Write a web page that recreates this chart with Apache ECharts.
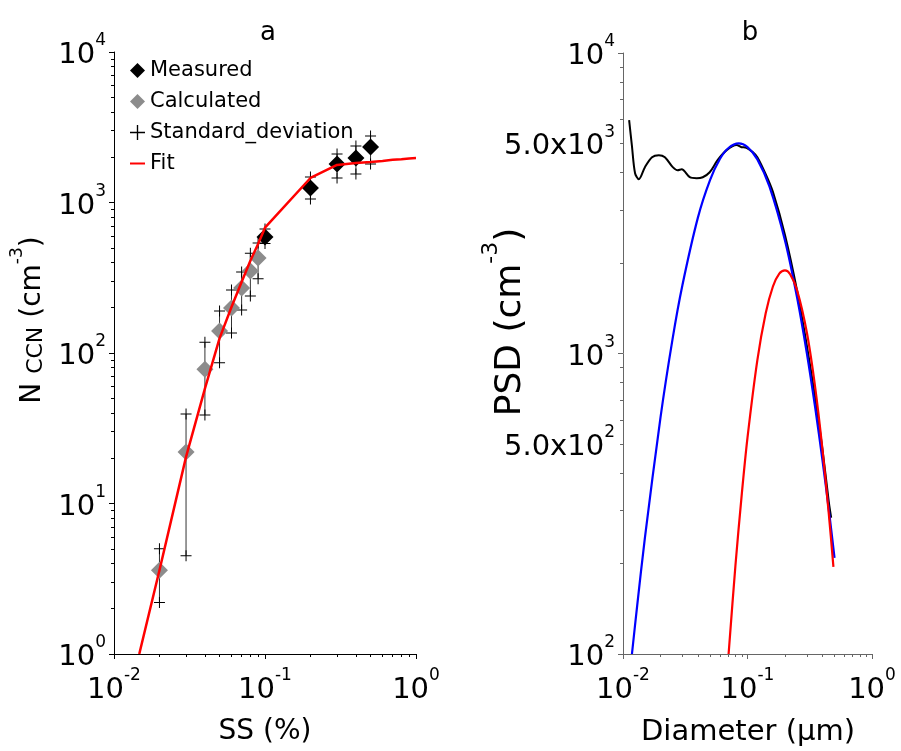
<!DOCTYPE html>
<html>
<head>
<meta charset="utf-8">
<script src="https://cdn.jsdelivr.net/npm/echarts@6/dist/echarts.min.js"></script>
<style>
  html, body { margin: 0; padding: 0; background: #fff; }
  #chart { width: 901px; height: 751px; }
</style>
</head>
<body>
<div id="chart"></div>
<script>
// panel a: CCN activation spectrum
const measSS = [0.1, 0.2, 0.3, 0.4, 0.5];
const measN = [590, 1250, 1800, 1975, 2340];
const measLow = [535, 1056, 1455, 1546, 1803];
const measHigh = [667, 1477, 2100, 2373, 2767];

const calcSS = [0.02, 0.03, 0.04, 0.05, 0.06, 0.07, 0.08, 0.09];
const calcN = [3.6, 22, 78, 140, 199, 270, 351, 428];
const calcLow = [2.2, 4.5, 38.7, 86, 136, 193, 239, 312];
const calcHigh = [5.0, 39.3, 118, 190, 262, 345, 460, 538];

const fitSS = [0.0147, 0.02, 0.03, 0.04, 0.05, 0.06, 0.07, 0.08, 0.09, 0.1, 0.2, 0.3, 0.4, 0.5, 0.6, 0.7, 0.8, 0.9, 1.0];
const fitN = [1.0, 3.6, 20.4, 58, 125, 202, 296, 410, 530, 680, 1455, 1775, 1830, 1858, 1890, 1920, 1940, 1960, 1975];

// panel b: particle size distribution
const psdD = [0.0112, 0.0118, 0.0125, 0.0134, 0.015, 0.0171, 0.0194, 0.0217, 0.0251, 0.0275, 0.0296, 0.0344, 0.0391, 0.0437, 0.0497, 0.0575, 0.068, 0.0817, 0.0895, 0.098, 0.11, 0.12, 0.14, 0.16, 0.2, 0.25, 0.3, 0.35, 0.4, 0.45, 0.47];
const psdN = [5980, 4900, 3980, 3800, 4170, 4500, 4570, 4500, 4170, 4070, 4100, 3860, 3830, 3860, 4010, 4400, 4750, 4940, 4860, 4840, 4680, 4500, 3950, 3450, 2480, 1620, 1060, 710, 480, 320, 284];

const mode1D = [0.0118, 0.013, 0.015, 0.02, 0.025, 0.03, 0.04, 0.05, 0.06, 0.07, 0.085, 0.1, 0.12, 0.15, 0.2, 0.25, 0.3, 0.35, 0.4, 0.45, 0.5];
const mode1N = [100, 145, 244, 612, 1117, 1687, 2838, 3776, 4436, 4819, 5000, 4862, 4426, 3600, 2379, 1538, 1000, 659, 442, 302, 209];

const mode2D = [0.0705, 0.08, 0.09, 0.1, 0.12, 0.14, 0.16, 0.18, 0.2, 0.22, 0.25, 0.3, 0.35, 0.4, 0.45, 0.49];
const mode2N = [100, 197, 341, 525, 951, 1361, 1671, 1845, 1892, 1836, 1625, 1172, 769, 480, 292, 195];

const psdLabelValues = [100, 500, 1000, 5000, 10000];

const FONT = 'DejaVu Sans';
const PLUS = 'path://M5,0 L6,0 L6,5 L11,5 L11,6 L6,6 L6,11 L5,11 L5,6 L0,6 L0,5 L5,5 Z';
const DASH = 'path://M0,0 L15,0 L15,2 L0,2 Z';

const zip = (xs, ys) => xs.map((x, i) => [x, ys[i]]);

function sciLabel(v) {
    const e = Math.floor(Math.log10(v) + 1e-9);
    const m = v / Math.pow(10, e);
    if (Math.abs(m - 1) < 1e-6) return '{b|10}{s|' + e + '}';
    return '{b|' + m.toFixed(1) + 'x10}{s|' + e + '}';
}

// base text sits in the middle of a tall line, exponent hangs at its top
const labelRich = {
    b: { fontSize: 29, height: 29, lineHeight: 46, verticalAlign: 'middle', fontFamily: FONT, color: '#000' },
    s: { fontSize: 17, height: 17, lineHeight: 17, verticalAlign: 'top', fontFamily: FONT, color: '#000' }
};

function logAxis(gridIndex, min, max, color, label) {
    return {
        type: 'log',
        logBase: 10,
        gridIndex: gridIndex,
        min: min,
        max: max,
        axisLine: { show: true, lineStyle: { color: color, width: 1 } },
        axisTick: { show: true, inside: false, length: 5, lineStyle: { color: color } },
        minorTick: { show: true, splitNumber: 9, length: 3, lineStyle: { color: color } },
        splitLine: { show: false },
        minorSplitLine: { show: false },
        axisLabel: Object.assign({ formatter: sciLabel, rich: labelRich }, label)
    };
}

const errData = calcSS.map((s, i) => [s, calcLow[i], calcHigh[i]])
    .concat(measSS.map((s, i) => [s, measLow[i], measHigh[i]]));
const stdPoints = errData.map(d => [d[0], d[1]]).concat(errData.map(d => [d[0], d[2]]));

const nameRichA = {
    m: { fontSize: 28, height: 28, lineHeight: 44, verticalAlign: 'bottom', fontFamily: FONT, fill: '#000' },
    c: { fontSize: 22, height: 22, lineHeight: 22, verticalAlign: 'bottom', fontFamily: FONT, fill: '#000' },
    p: { fontSize: 17, height: 17, lineHeight: 17, verticalAlign: 'top', padding: [6, 0, 0, 0], fontFamily: FONT, fill: '#000' }
};
const nameRichB = {
    m: { fontSize: 36, height: 36, lineHeight: 56, verticalAlign: 'bottom', fontFamily: FONT, fill: '#000' },
    p: { fontSize: 22, height: 22, lineHeight: 22, verticalAlign: 'top', padding: [7, 0, 0, 0], fontFamily: FONT, fill: '#000' }
};

const chart = echarts.init(document.getElementById('chart'), null, { renderer: 'canvas' });

chart.setOption({
    animation: false,
    backgroundColor: '#fff',
    textStyle: { fontFamily: FONT, color: '#000' },
    title: [
        { text: 'a', left: 263, top: 28, textAlign: 'center', textVerticalAlign: 'middle',
          textStyle: { fontSize: 26, fontWeight: 'normal', fontFamily: FONT, color: '#000' } },
        { text: 'b', left: 745, top: 28, textAlign: 'center', textVerticalAlign: 'middle',
          textStyle: { fontSize: 26, fontWeight: 'normal', fontFamily: FONT, color: '#000' } }
    ],
    legend: {
        orient: 'vertical',
        left: 130,
        top: 60,
        padding: 0,
        itemWidth: 15,
        itemHeight: 15,
        itemGap: 10,
        textStyle: { fontSize: 21, fontFamily: FONT, color: '#000' },
        data: ['Measured', 'Calculated', 'Standard_deviation', { name: 'Fit', icon: DASH }]
    },
    grid: [
        { left: 114, top: 52, width: 302, height: 602, containLabel: false },
        { left: 623, top: 53, width: 249, height: 601, containLabel: false }
    ],
    xAxis: [
        logAxis(0, 0.01, 1, '#000', { margin: 13 }),
        logAxis(1, 0.01, 1, '#666', { margin: 13 })
    ],
    yAxis: [
        logAxis(0, 1, 10000, '#000', { margin: 8, padding: [7, 0, 0, 0] }),
        logAxis(1, 100, 10000, '#666', { margin: 8, padding: [7, 0, 0, 0], customValues: psdLabelValues })
    ],
    graphic: [
        { type: 'text', x: 47, y: 320, rotation: Math.PI / 2,
          style: { text: '{m|N }{c|CCN}{m| (cm}{p|-3}{m|)}', align: 'center', verticalAlign: 'bottom', rich: nameRichA } },
        { type: 'text', x: 529, y: 322, rotation: Math.PI / 2,
          style: { text: '{m|PSD (cm}{p|-3}{m|)}', align: 'center', verticalAlign: 'bottom', rich: nameRichB } },
        { type: 'text', x: 265, y: 732,
          style: { text: 'SS (%)', align: 'center', verticalAlign: 'middle', fontSize: 28, fontFamily: FONT, fill: '#000' } },
        { type: 'text', x: 748, y: 732,
          style: { text: 'Diameter (µm)', align: 'center', verticalAlign: 'middle', fontSize: 29, fontFamily: FONT, fill: '#000' } }
    ],
    series: [
        {
            name: 'errbar',
            type: 'custom',
            xAxisIndex: 0,
            yAxisIndex: 0,
            data: errData,
            encode: { x: 0, y: [1, 2] },
            renderItem: function (params, api) {
                const p1 = api.coord([api.value(0), api.value(1)]);
                const p2 = api.coord([api.value(0), api.value(2)]);
                return {
                    type: 'line',
                    shape: { x1: p1[0], y1: p1[1], x2: p2[0], y2: p2[1] },
                    style: { stroke: '#333', lineWidth: 1 }
                };
            },
            z: 1
        },
        {
            name: 'Standard_deviation',
            type: 'scatter',
            xAxisIndex: 0,
            yAxisIndex: 0,
            symbol: PLUS,
            symbolSize: 11,
            itemStyle: { color: '#000', opacity: 1 },
            data: stdPoints,
            z: 2
        },
        {
            name: 'Calculated',
            type: 'scatter',
            xAxisIndex: 0,
            yAxisIndex: 0,
            symbol: 'diamond',
            symbolSize: 17,
            itemStyle: { color: '#8c8c8c', opacity: 1 },
            data: zip(calcSS, calcN),
            z: 3
        },
        {
            name: 'Measured',
            type: 'scatter',
            xAxisIndex: 0,
            yAxisIndex: 0,
            symbol: 'diamond',
            symbolSize: 17,
            itemStyle: { color: '#000', opacity: 1 },
            data: zip(measSS, measN),
            z: 3
        },
        {
            name: 'Fit',
            type: 'line',
            xAxisIndex: 0,
            yAxisIndex: 0,
            symbol: 'none',
            lineStyle: { color: '#ff0000', width: 2.5 },
            itemStyle: { color: '#ff0000' },
            data: zip(fitSS, fitN),
            z: 4
        },
        {
            name: 'PSD',
            type: 'line',
            xAxisIndex: 1,
            yAxisIndex: 1,
            symbol: 'none',
            smooth: 0.3,
            lineStyle: { color: '#000', width: 2 },
            data: zip(psdD, psdN),
            z: 2
        },
        {
            name: 'Mode 1',
            type: 'line',
            xAxisIndex: 1,
            yAxisIndex: 1,
            symbol: 'none',
            smooth: 0.3,
            lineStyle: { color: '#0000ff', width: 2.2 },
            data: zip(mode1D, mode1N),
            z: 3
        },
        {
            name: 'Mode 2',
            type: 'line',
            xAxisIndex: 1,
            yAxisIndex: 1,
            symbol: 'none',
            smooth: 0.3,
            lineStyle: { color: '#ff0000', width: 2.2 },
            data: zip(mode2D, mode2N),
            z: 4
        }
    ]
});
</script>
</body>
</html>
